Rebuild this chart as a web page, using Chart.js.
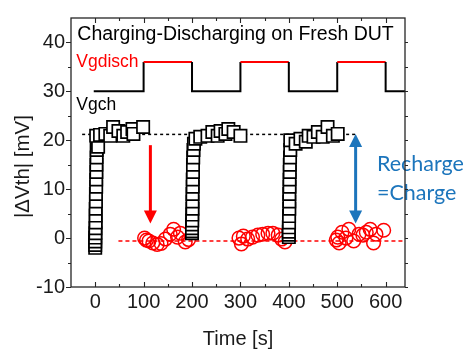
<!DOCTYPE html>
<html>
<head>
<meta charset="utf-8">
<script src="https://cdn.jsdelivr.net/npm/chart.js@4.4.0/dist/chart.umd.min.js"></script>
<style>
  html, body { margin: 0; padding: 0; background: #ffffff; }
  #wrap { width: 470px; height: 349px; }
</style>
</head>
<body>
<div id="wrap"><canvas id="c" width="470" height="349"></canvas></div>
<script>
// Axis ranges and tick labels
const xRange = [-50, 640];
const yRange = [-10, 45];
const xTicks = [0, 100, 200, 300, 400, 500, 600];
const yTicks = [-10, 0, 10, 20, 30, 40];

// Gate bias waveform (Vgch low level, Vgdisch high level)
const gateT = [-3, 100, 100, 200, 200, 300, 300, 400, 400, 500, 500, 600, 600, 640];
const gateV = [30, 30, 36, 36, 30, 30, 36, 36, 30, 30, 36, 36, 30, 30];

// Charging phases |dVth| (mV) vs time (s)
const chargeT = [
  0, 0, 0, 0, 0.5, 0.5, 1, 1, 1, 1.5, 1.5, 2, 2, 2.5, 2.5, 3, 3, 4, 6,
  2, 10, 21, 31, 37, 48, 58, 66, 77, 79, 99,
  200, 200, 200, 200, 200.5, 200.5, 201, 201, 201, 201.5, 201.5, 202, 202, 202.5, 203, 204,
  207, 217, 232, 242, 253, 259, 269, 275, 286, 300,
  400, 400, 400, 400, 400.5, 400.5, 401, 401, 401, 401.5, 401.5, 402, 402, 402.5, 403, 403,
  414, 424, 435, 441, 451, 460, 470, 480, 491, 501
];
const chargeV = [
  -2, -1.4, -0.7, 0.1, 1, 2, 3.2, 4.6, 6, 7.5, 9, 10.5, 12, 13.5, 15, 16.5, 18, 19.5, 18.7,
  20.9, 21.1, 21.3, 20.9, 22.7, 21.9, 20.9, 21.7, 22.3, 21.3, 22.7,
  1, 1.4, 2, 2.8, 3.6, 4.8, 6, 7.5, 9, 10.5, 12, 13.5, 15, 16.5, 18, 19.3,
  20.3, 20.7, 20.9, 21.7, 20.9, 21.9, 21.3, 22.3, 21.7, 20.9,
  0.2, 0.7, 1.3, 2.2, 3.2, 4.5, 6, 7.5, 9, 10.5, 12, 13.5, 15, 16.5, 18, 20,
  19.3, 20.3, 19.7, 20.9, 20.7, 21.7, 20.7, 22.7, 20.9, 21.3
];

// Discharging phases |dVth| (mV) vs time (s)
const dischargeT = [
  102, 106, 111, 119, 128, 136, 145, 155, 162, 170, 176, 186, 193,
  297, 302, 306, 315, 325, 336, 346, 357, 367, 378, 385, 392,
  498, 501, 504, 510, 518, 524, 534, 545, 553, 560, 568, 575, 580, 596
];
const dischargeV = [
  0, -0.4, -0.6, -1, -1.3, -1.1, -0.2, 0.8, 1.8, 0.2, 1, -0.8, -0.3,
  0, -1.2, 0.4, -0.2, 0.2, 0.6, 0.8, 1, 1, 0.6, -0.2, -0.8,
  -0.4, 0.2, -1, 1.2, 0, 1.8, -0.6, 0.8, 0.6, 1.2, 1.8, -1, 0.8, 1.6
];

// Guide levels: [level, start time, end time]
const chargeGuide = [21.2, -27, 541];
const dischargeGuide = [-0.6, 48, 640];

// Arrows: [time, from level, to level]
const dropArrow = [114, 19, 3];
const rechargeArrow = [538, 21.3, 3];

const FONT = '"Liberation Sans", Arial, sans-serif';

// Text notes placed in data units (left edge, baseline)
const notes = [
  { text: 'Charging-Discharging on Fresh DUT', t: -37, v: 40.6, color: '#000000', font: '19.5px ' + FONT },
  { text: 'Vgdisch', t: -39, v: 34.9, color: '#ff0000', font: '17.5px ' + FONT },
  { text: 'Vgch', t: -39, v: 26.1, color: '#000000', font: '17.5px ' + FONT },
  { text: 'Recharge', t: 582, v: 13.7, color: '#1c75bc', font: '21.5px Lato, ' + FONT },
  { text: '=Charge', t: 582, v: 7.8, color: '#1c75bc', font: '21.5px Lato, ' + FONT }
];

const zip = (ts, vs) => ts.map((t, i) => ({ x: t, y: vs[i] }));

function arrowHead(ctx, x, tipY, dir) {
  // dir = +1 points down, -1 points up
  const len = 13, half = 6.5;
  ctx.beginPath();
  ctx.moveTo(x, tipY);
  ctx.lineTo(x - half, tipY - dir * len);
  ctx.lineTo(x + half, tipY - dir * len);
  ctx.closePath();
  ctx.fill();
}

function drawArrow(ctx, x, y1, y2, color, both) {
  const len = 12;
  ctx.strokeStyle = color;
  ctx.fillStyle = color;
  ctx.lineWidth = 3;
  ctx.beginPath();
  ctx.moveTo(x, both ? y1 + len : y1);
  ctx.lineTo(x, y2 - len);
  ctx.stroke();
  arrowHead(ctx, x, y2, 1);
  if (both) arrowHead(ctx, x, y1, -1);
}

const decor = {
  id: 'decor',
  afterDatasetsDraw(chart) {
    const { ctx, scales: { x, y } } = chart;
    ctx.save();
    drawArrow(ctx, x.getPixelForValue(dropArrow[0]), y.getPixelForValue(dropArrow[1]),
      y.getPixelForValue(dropArrow[2]), '#ff0000', false);
    drawArrow(ctx, x.getPixelForValue(rechargeArrow[0]), y.getPixelForValue(rechargeArrow[1]),
      y.getPixelForValue(rechargeArrow[2]), '#1c75bc', true);
    ctx.textBaseline = 'alphabetic';
    ctx.textAlign = 'left';
    notes.forEach(n => {
      ctx.font = n.font;
      ctx.fillStyle = n.color;
      ctx.fillText(n.text, x.getPixelForValue(n.t), y.getPixelForValue(n.v));
    });
    ctx.restore();
  },
  afterDraw(chart) {
    const { ctx, chartArea: a, scales: { x, y } } = chart;
    ctx.save();
    ctx.strokeStyle = '#262626';
    ctx.lineWidth = 1.3;
    ctx.strokeRect(a.left, a.top, a.right - a.left, a.bottom - a.top);
    ctx.lineWidth = 1.1;
    ctx.beginPath();
    // x ticks (inward) on bottom and top, with minor ticks between
    xTicks.forEach((t, i) => {
      const px = Math.round(x.getPixelForValue(t)) + 0.5;
      ctx.moveTo(px, a.bottom); ctx.lineTo(px, a.bottom - 5);
      ctx.moveTo(px, a.top); ctx.lineTo(px, a.top + 5);
      const m = t + (i < xTicks.length - 1 ? (xTicks[i + 1] - t) / 2 : (t - xTicks[i - 1]) / 2);
      if (m < xRange[1]) {
        const pm = Math.round(x.getPixelForValue(m)) + 0.5;
        ctx.moveTo(pm, a.bottom); ctx.lineTo(pm, a.bottom - 3);
        ctx.moveTo(pm, a.top); ctx.lineTo(pm, a.top + 3);
      }
      if (i === 0) {
        const pm0 = Math.round(x.getPixelForValue(t - (xTicks[1] - t) / 2)) + 0.5;
        if (pm0 > a.left + 1) { ctx.moveTo(pm0, a.bottom); ctx.lineTo(pm0, a.bottom - 3); }
      }
    });
    // y ticks (outward) on left and right, with minor ticks between
    yTicks.forEach((v, i) => {
      const py = Math.round(y.getPixelForValue(v)) + 0.5;
      ctx.moveTo(a.left, py); ctx.lineTo(a.left - 5, py);
      ctx.moveTo(a.right, py); ctx.lineTo(a.right + 3, py);
      const m = v + (i < yTicks.length - 1 ? (yTicks[i + 1] - v) / 2 : (v - yTicks[i - 1]) / 2);
      if (m < yRange[1]) {
        const pm = Math.round(y.getPixelForValue(m)) + 0.5;
        ctx.moveTo(a.left, pm); ctx.lineTo(a.left - 3, pm);
        ctx.moveTo(a.right, pm); ctx.lineTo(a.right + 3, pm);
      }
    });
    ctx.stroke();

    // axis titles
    ctx.fillStyle = '#1a1a1a';
    ctx.font = '20px ' + FONT;
    ctx.textAlign = 'center';
    ctx.textBaseline = 'middle';
    ctx.fillText('Time [s]', (a.left + a.right) / 2, a.bottom + 52);
    ctx.translate(a.left - 48, (a.top + a.bottom) / 2 + 14);
    ctx.rotate(-Math.PI / 2);
    ctx.font = '20.5px ' + FONT;
    ctx.fillText('|\u0394Vth| [mV]', 0, 0);
    ctx.restore();
  }
};

new Chart(document.getElementById('c'), {
  type: 'scatter',
  data: {
    datasets: [
      {
        type: 'line',
        data: zip(gateT, gateV),
        borderWidth: 2,
        borderColor: '#000000',
        pointRadius: 0,
        tension: 0,
        order: 3,
        segment: {
          borderColor: c => (c.p0.parsed.y === c.p1.parsed.y && c.p0.parsed.y > 33) ? '#ff0000' : '#000000'
        }
      },
      {
        type: 'line',
        data: [{ x: chargeGuide[1], y: chargeGuide[0] }, { x: chargeGuide[2], y: chargeGuide[0] }],
        borderColor: '#000000',
        borderWidth: 1.5,
        borderDash: [3, 3],
        pointRadius: 0,
        order: 3
      },
      {
        type: 'line',
        data: [{ x: dischargeGuide[1], y: dischargeGuide[0] }, { x: dischargeGuide[2], y: dischargeGuide[0] }],
        borderColor: '#ff0000',
        borderWidth: 1.5,
        borderDash: [4, 3],
        pointRadius: 0,
        order: 3
      },
      {
        data: zip(dischargeT, dischargeV),
        pointStyle: 'circle',
        pointRadius: 6.8,
        borderWidth: 1.5,
        borderColor: '#ff0000',
        backgroundColor: 'rgba(255,255,255,0)',
        order: 2
      },
      {
        data: zip(chargeT, chargeV),
        pointStyle: 'rect',
        pointRadius: 8.7,
        borderWidth: 1.7,
        borderColor: '#000000',
        backgroundColor: '#ffffff',
        order: 1
      }
    ]
  },
  options: {
    responsive: false,
    animation: false,
    devicePixelRatio: 1,
    layout: { padding: { top: 11, right: 65, left: 0, bottom: 0 } },
    plugins: { legend: { display: false }, tooltip: { enabled: false } },
    events: [],
    scales: {
      x: {
        type: 'linear',
        min: xRange[0],
        max: xRange[1],
        grid: { display: false, drawTicks: false },
        border: { display: false },
        afterBuildTicks: s => { s.ticks = xTicks.map(v => ({ value: v })); },
        afterFit: s => { s.height = 62; },
        ticks: { font: { family: FONT, size: 20 }, color: '#1a1a1a', padding: 3, maxRotation: 0 }
      },
      y: {
        type: 'linear',
        min: yRange[0],
        max: yRange[1],
        grid: { display: false, drawTicks: false },
        border: { display: false },
        afterBuildTicks: s => { s.ticks = yTicks.map(v => ({ value: v })); },
        afterFit: s => { s.width = 71; },
        ticks: { font: { family: FONT, size: 20 }, color: '#1a1a1a', padding: 6 }
      }
    }
  },
  plugins: [decor]
});
</script>
</body>
</html>
